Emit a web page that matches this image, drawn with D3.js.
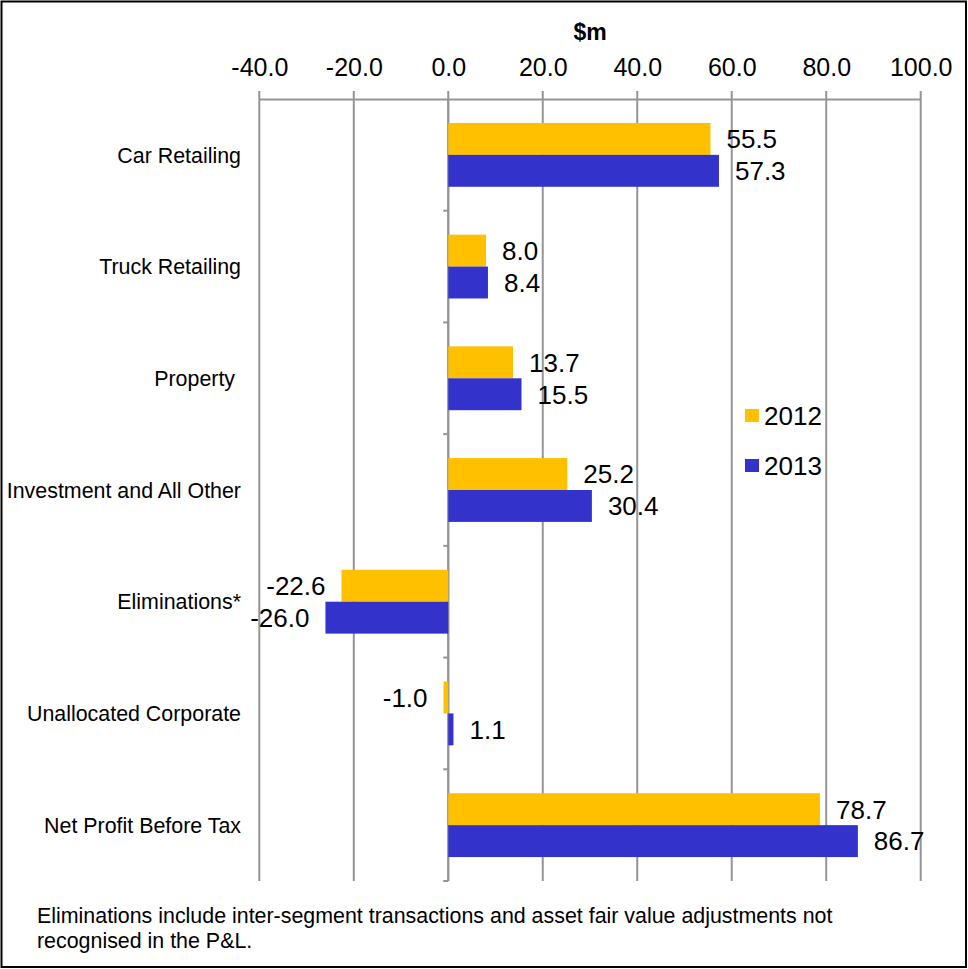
<!DOCTYPE html>
<html>
<head>
<meta charset="utf-8">
<script src="https://cdn.jsdelivr.net/npm/d3@7"></script>
<style>
  html, body { margin: 0; padding: 0; background: #fff; }
  svg { display: block; font-family: "Liberation Sans", Arial, sans-serif; }
</style>
</head>
<body>
<svg id="chart" width="968" height="969"></svg>
<script>
// Segment results, $m
const categories = [
  "Car Retailing",
  "Truck Retailing",
  "Property ",
  "Investment and All Other",
  "Eliminations*",
  "Unallocated Corporate",
  "Net Profit Before Tax"
];
const values2012 = [55.5, 8.0, 13.7, 25.2, -22.6, -1.0, 78.7];
const values2013 = [57.3, 8.4, 15.5, 30.4, -26.0, 1.1, 86.7];
const seriesNames = ["2012", "2013"];
const seriesColors = ["#FFC000", "#3333CC"];
const xTicks = [-40, -20, 0, 20, 40, 60, 80, 100];
const footnoteLines = [
  "Eliminations include inter-segment transactions and asset fair value adjustments not",
  "recognised in the P&L."
];

const svg = d3.select("#chart");
const W = 968, H = 969;
const plot = { left: 259.3, right: 920.7, top: 99, bottom: 881 };
const gridColor = "#959595";

// one decimal, plain hyphen for negatives
const fmt = d3.formatLocale({ decimal: ".", thousands: ",", grouping: [3], currency: ["$", ""], minus: "-" }).format(".1f");

// outer frame
svg.append("rect")
  .attr("x", 1.5).attr("y", 1.5)
  .attr("width", W - 3.5).attr("height", H - 3.5)
  .attr("fill", "#fff").attr("stroke", "#000").attr("stroke-width", 2);

const x = d3.scaleLinear().domain([-40, 100]).range([plot.left, plot.right]);
const y = d3.scaleBand().domain(categories).range([plot.top, plot.bottom]).padding(0);
const step = y.step();
const barH = step / 3.5;              // two bars plus a 150% gap
const groupOffset = (step - 2 * barH) / 2;

// vertical gridlines (each also forms its tick above the axis line)
svg.append("g").selectAll("line")
  .data(xTicks)
  .join("line")
  .attr("x1", d => x(d)).attr("x2", d => x(d))
  .attr("y1", plot.top - 8).attr("y2", plot.bottom)
  .attr("stroke", gridColor).attr("stroke-width", 2);

// value axis along the top
const xAxis = d3.axisTop(x)
  .tickValues(xTicks)
  .tickSize(0)
  .tickPadding(0)
  .tickFormat(fmt);
const gx = svg.append("g")
  .attr("transform", `translate(0,${plot.top})`)
  .call(xAxis);
gx.select(".domain").attr("stroke", gridColor).attr("stroke-width", 2);
gx.selectAll(".tick text")
  .attr("y", -23)
  .attr("dy", 0)
  .attr("fill", "#000")
  .attr("font-size", 25)
  .attr("font-family", "Liberation Sans, Arial, sans-serif");

// unit title
svg.append("text")
  .attr("x", (plot.left + plot.right) / 2)
  .attr("y", 40)
  .attr("text-anchor", "middle")
  .attr("font-size", 23)
  .attr("font-weight", "bold")
  .text("$m");

// category axis at zero
const zeroX = x(0);
svg.append("line")
  .attr("x1", zeroX).attr("x2", zeroX)
  .attr("y1", plot.top).attr("y2", plot.bottom)
  .attr("stroke", gridColor).attr("stroke-width", 2);
svg.append("g").selectAll("line")
  .data(categories)
  .join("line")
  .attr("x1", zeroX - 5).attr("x2", zeroX)
  .attr("y1", d => y(d) + step).attr("y2", d => y(d) + step)
  .attr("stroke", gridColor).attr("stroke-width", 2);

// category labels
svg.append("g").selectAll("text")
  .data(categories)
  .join("text")
  .attr("x", 241)
  .attr("y", d => y(d) + step / 2)
  .attr("dy", "0.36em")
  .attr("text-anchor", "end")
  .attr("font-size", 21.4)
  .style("white-space", "pre")
  .text(d => d);

// bars and value labels
const series = [values2012, values2013];
series.forEach((vals, si) => {
  const rows = categories.map((c, i) => ({ c, v: vals[i] }));
  const g = svg.append("g");
  g.selectAll("rect")
    .data(rows)
    .join("rect")
    .attr("x", d => x(Math.min(0, d.v)))
    .attr("y", d => y(d.c) + groupOffset + si * barH)
    .attr("width", d => Math.abs(x(d.v) - x(0)))
    .attr("height", barH)
    .attr("fill", seriesColors[si]);
  g.selectAll("text")
    .data(rows)
    .join("text")
    .attr("x", d => d.v >= 0 ? x(d.v) + 16 : x(d.v) - 16)
    .attr("y", d => y(d.c) + groupOffset + si * barH + barH / 2)
    .attr("dy", "0.36em")
    .attr("text-anchor", d => d.v >= 0 ? "start" : "end")
    .attr("font-size", 26)
    .text(d => fmt(d.v));
});

// legend
const legend = svg.append("g").attr("transform", "translate(745,0)");
seriesNames.forEach((name, i) => {
  const cy = 415.5 + i * 50;
  legend.append("rect")
    .attr("x", 0).attr("y", cy - 6.5)
    .attr("width", 14).attr("height", 13)
    .attr("fill", seriesColors[i]);
  legend.append("text")
    .attr("x", 19).attr("y", cy)
    .attr("dy", "0.36em")
    .attr("font-size", 26)
    .text(name);
});

// footnote
svg.append("g").selectAll("text")
  .data(footnoteLines)
  .join("text")
  .attr("x", 37)
  .attr("y", (d, i) => 923 + i * 25)
  .attr("font-size", 21.4)
  .text(d => d);
</script>
</body>
</html>
